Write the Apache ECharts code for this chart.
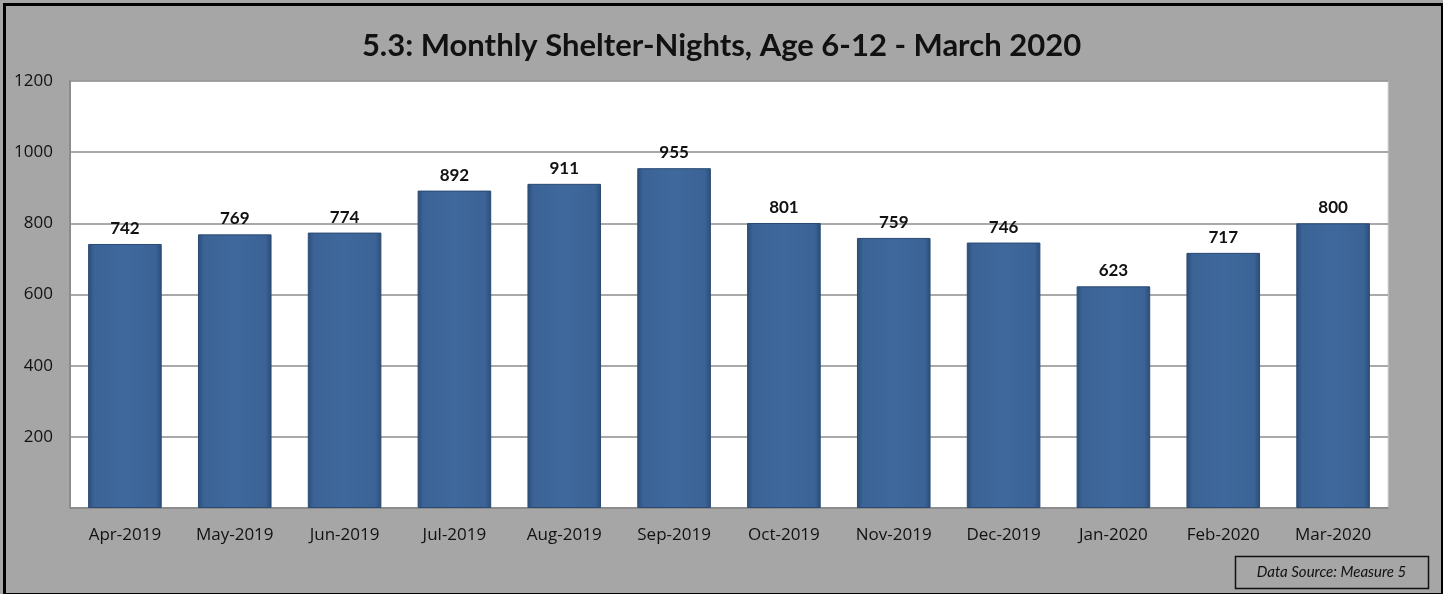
<!DOCTYPE html>
<html><head><meta charset="utf-8">
<script src="https://cdn.jsdelivr.net/npm/echarts@6/dist/echarts.min.js"></script>
<style>html,body{margin:0;padding:0;background:#fff}#c{width:1443px;height:594px}</style>
</head><body><div id="c"></div>
<script>
const categories = ['Apr-2019','May-2019','Jun-2019','Jul-2019','Aug-2019','Sep-2019','Oct-2019','Nov-2019','Dec-2019','Jan-2020','Feb-2020','Mar-2020'];
const values = [742,769,774,892,911,955,801,759,746,623,717,800];
const yTicks = [0,200,400,600,800,1000,1200];
const titleText = '5.3: Monthly Shelter-Nights, Age 6-12 - March 2020';
const sourceText = 'Data Source: Measure 5';

const chart = echarts.init(document.getElementById('c'));
const FONT = 'Lato, "Open Sans", sans-serif';
const FONT2 = '"Open Sans", Lato, sans-serif';
chart.setOption({
  backgroundColor: '#A6A6A6',
  animation: false,
  title: { text: titleText, left: 'center', top: 25,
    textStyle: { fontFamily: FONT, fontSize: 31, fontWeight: 'bold', color: '#111' } },
  grid: { left: 70, right: 55, top: 81, bottom: 86, show: true, backgroundColor: '#fff', borderColor: '#d9d9d9', borderWidth: 1 },
  xAxis: { type: 'category', data: categories,
    axisLine: { lineStyle: { color: '#8c8c8c', width: 2 } }, axisTick: { show: false },
    axisLabel: { fontFamily: FONT2, fontSize: 17, color: '#111', margin: 19 } },
  yAxis: { type: 'value', min: yTicks[0], max: yTicks[yTicks.length-1], interval: 200,
    axisLine: { show: true, lineStyle: { color: '#8c8c8c', width: 2 } }, axisTick: { show: false },
    splitLine: { lineStyle: { color: '#8c8c8c', width: 1.5 } },
    axisLabel: { fontFamily: FONT2, fontSize: 17, color: '#111', margin: 17,
      formatter: v => v === 0 ? '' : String(v) } },
  series: [{ type: 'bar', data: values, barWidth: '67%',
    itemStyle: { color: new echarts.graphic.LinearGradient(0,0,1,0,[
      {offset:0,color:'#2b4d78'},{offset:0.08,color:'#3b6396'},{offset:0.5,color:'#3f689c'},{offset:0.92,color:'#3b6396'},{offset:1,color:'#2b4d78'}]),
      borderColor: '#2a4a73', borderWidth: 1 },
    label: { show: true, position: 'top', distance: 7, fontFamily: FONT, fontSize: 17, fontWeight: 'bold', color: '#111' } }],
  graphic: [
    { type: 'rect', left: 2, top: 2, shape: { width: 1438, height: 590 }, style: { fill: 'none', stroke: '#000', lineWidth: 3 }, z: 100 },
    { type: 'group', left: 1233, top: 554, children: [
      { type: 'rect', shape: { width: 193, height: 32 }, style: { fill: 'none', stroke: '#111', lineWidth: 1.5 } },
      { type: 'text', x: 96, y: 16, style: { text: sourceText, align: 'center', verticalAlign: 'middle', fontFamily: FONT, fontSize: 15, fontStyle: 'italic', fill: '#111' } }
    ] }
  ]
});
</script></body></html>
